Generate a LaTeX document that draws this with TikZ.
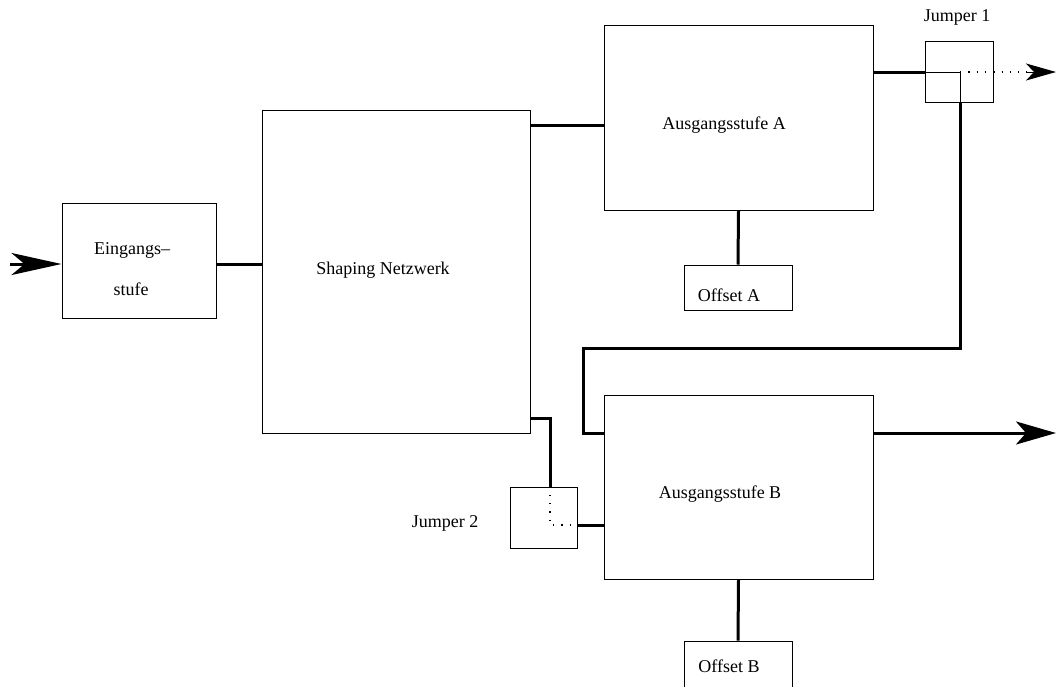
\documentclass[tikz,border=0pt]{standalone}
\usepackage{fontspec}
\setmainfont{Liberation Serif}
\usetikzlibrary{arrows.meta}
\begin{document}
\begin{tikzpicture}[x=1pt,y=-1pt,
  blk/.style={draw, line width=1pt, inner sep=0pt},
  lbl/.style={inner sep=0pt, anchor=base, font=\fontsize{18}{22}\selectfont},
  wire/.style={line width=3pt},
  thin/.style={line width=1pt},
  dots/.style={line width=1.3pt, dash pattern=on 1.3pt off 7pt},
  bighead/.style={-{Stealth[length=50pt, width=22pt, inset=13pt]}},
  midhead/.style={-{Stealth[length=40pt, width=23pt, inset=10pt]}},
  smallhead/.style={-{Stealth[length=30pt, width=17pt, inset=8pt]}}]
\clip (0,0) rectangle (1056,686);

% blocks
\node[blk, minimum width=154pt, minimum height=115pt] (ein) at (139,260.5) {};
\node[blk, minimum width=268pt, minimum height=323pt] (shp) at (396,271.5) {};
\node[blk, minimum width=269pt, minimum height=185pt] (ausa) at (738.5,117.5) {};
\node[blk, minimum width=269pt, minimum height=184pt] (ausb) at (738.5,487) {};
\node[blk, minimum width=108pt, minimum height=45pt] (offa) at (738,287.5) {};
\node[blk, minimum width=108pt, minimum height=60pt] (offb) at (738,671) {};
\node[blk, minimum width=68pt, minimum height=61pt] (jone) at (959,71.5) {};
\node[blk, minimum width=67pt, minimum height=61pt] (jtwo) at (543.5,517.5) {};

% texts
\node[lbl] (tein1) at (132,254) {Eingangs–};
\node[lbl] (tein2) at (131,295) {stufe};
\node[lbl] (tshp) at (383,274) {Shaping Netzwerk};
\node[lbl] (tausa) at (724,129) {Ausgangsstufe A};
\node[lbl] (tausb) at (720,498) {Ausgangsstufe B};
\node[lbl] (toffa) at (729,301) {Offset A};
\node[lbl] (toffb) at (729,672) {Offset B};
\node[lbl] (tjone) at (957,21) {Jumper 1};
\node[lbl] (tjtwo) at (445,527) {Jumper 2};

% routing points
\coordinate (yin) at (0,264);
\coordinate (ysa) at (0,125);
\coordinate (yja) at (0,72);
\coordinate (xja) at (960,0);
\coordinate (yret) at (0,348);
\coordinate (xret) at (583,0);
\coordinate (yb) at (0,433);
\coordinate (ysb) at (0,418);
\coordinate (xjb) at (550,0);
\coordinate (yjb) at (0,525);
\coordinate (src) at (10,264);
\coordinate (dotend) at (1027,72);
\coordinate (outa) at (1056,72);
\coordinate (outb) at (1056,433);

% input
\draw[wire, bighead] (src) -- (yin -| ein.west);
\draw[wire] (yin -| ein.east) -- (yin -| shp.west);

% shaping network to output stage A
\draw[wire] (ysa -| shp.east) -- (ysa -| ausa.west);
\draw[wire] (ausa.south) -- (offa.north);

% output stage A through jumper 1
\draw[wire] (yja -| ausa.east) -- (yja -| jone.west);
\draw[thin] (yja -| jone.west) -- (yja -| xja) -- (xja |- jone.south);
\draw[wire] (xja |- jone.south) -- (xja |- yret) -- (xret |- yret) -- (xret |- yb) -- (yb -| ausb.west);
\draw[dots] (yja -| xja) -- (dotend);
\draw[line width=1pt, smallhead] (dotend) -- (outa);

% shaping network to output stage B through jumper 2
\draw[wire] (ysb -| shp.east) -- (ysb -| xjb) -- (xjb |- jtwo.north);
\draw[dots] (xjb |- jtwo.north) -- (xjb |- yjb) -- (yjb -| jtwo.east);
\draw[wire] (yjb -| jtwo.east) -- (yjb -| ausb.west);

% output stage B
\draw[wire, midhead] (yb -| ausb.east) -- (outb);
\draw[wire] (ausb.south) -- (offb.north);
\end{tikzpicture}
\end{document}
